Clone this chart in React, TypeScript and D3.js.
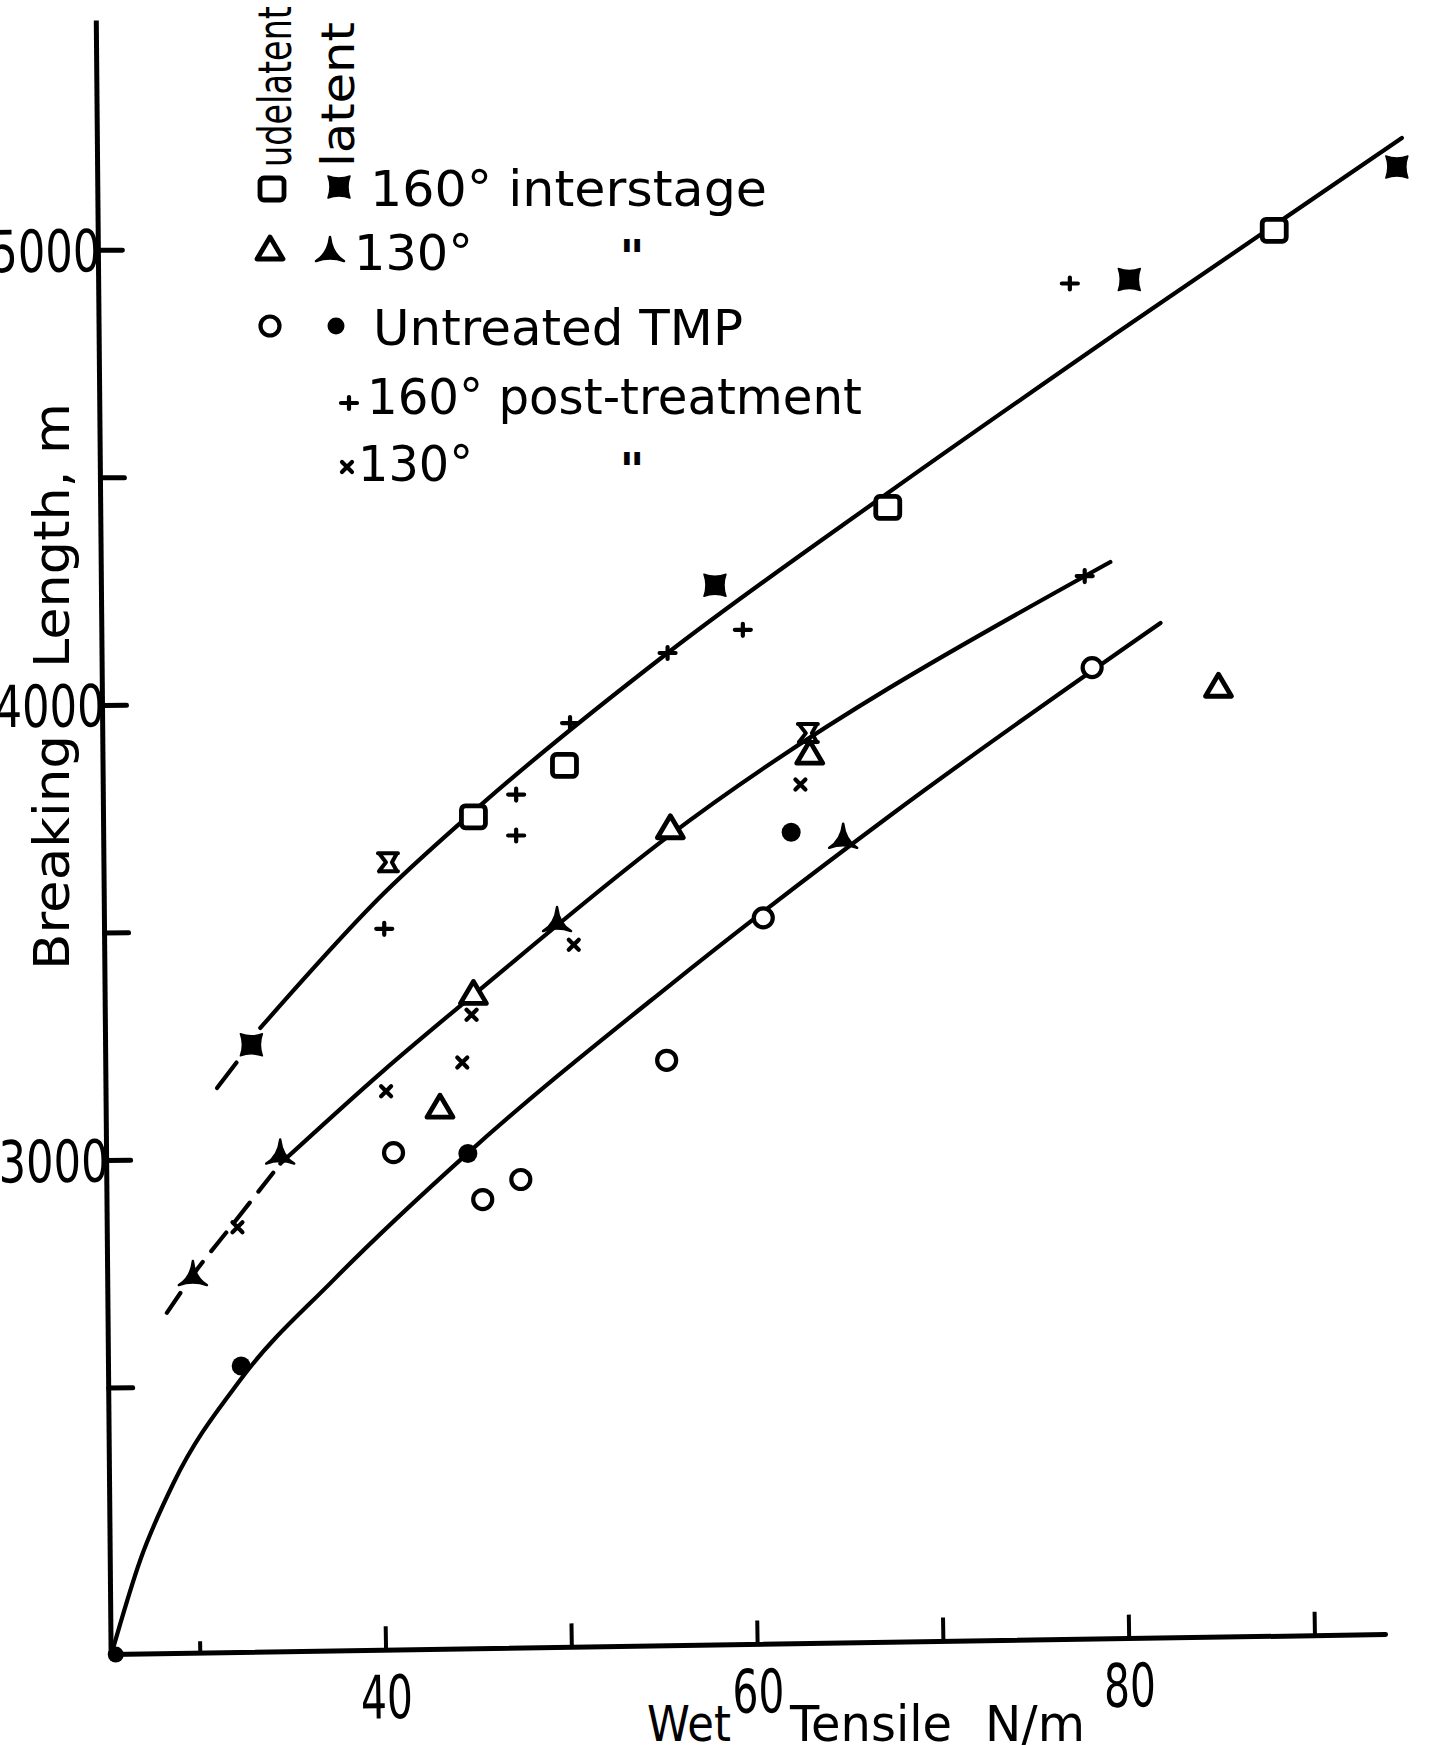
import React from 'react';
import * as d3 from 'd3';

const W = 1443;
const H = 1745;

// ---- axis data ----
const xTickValues = [30, 40, 50, 60, 70, 80, 90];
const xTickLabels = [40, 60, 80];
const yTickValues = [2500, 3000, 3500, 4000, 4500, 5000];
const yTickLabels = [3000, 4000, 5000];
const X_MIN = 25.2;
const X_MAX = 93.8;
const Y_MIN = 1914;
const Y_MAX = 5505;

// ---- point series [wet tensile N/m, breaking length m] ----
const udelatent160 = [[44.7, 3755], [49.6, 3868], [67.0, 4435], [87.8, 5044]];
const latent160 = [[32.75, 3254], [57.7, 4264], [80.0, 4936], [94.4, 5183]];
const latent160Outline = [[40.1, 3655], [62.7, 3939]];
const udelatent130 = [[42.9, 3117], [44.7, 3367], [55.3, 3731], [62.8, 3895], [84.8, 4042]];
const latent130 = [[29.6, 2748], [34.3, 3015], [49.2, 3526], [64.6, 3709]];
const untreatedUdelatent = [[40.4, 3017], [45.2, 2914], [47.25, 2958], [55.1, 3220], [60.3, 3533], [78.0, 4083]];
const untreatedLatent = [[32.2, 2548], [44.4, 3015], [61.8, 3721]];
const originDot = [[25.45, 1914]];
const post160 = [[39.9, 3509], [47.0, 3714], [47.0, 3804], [49.9, 3961], [55.15, 4115], [59.2, 4166], [76.8, 4927], [77.6, 4284]];
const post130 = [[40.0, 3152], [44.1, 3215], [44.6, 3320], [32.0, 2853], [50.1, 3474], [62.3, 3826]];

// ---- fitted curves ----
const curveTopLead = [[30.9, 3159], [31.95, 3215]];
const curveTop = [[33.23, 3291], [39.88, 3587], [45.21, 3785], [55.15, 4115], [66.95, 4465], [79.1, 4812], [94.67, 5247]];
const curveMidLead = [[28.2, 2665], [29.82, 2760], [31.62, 2853], [34.31, 2993]];
const curveMid = [[34.31, 2993], [39.88, 3198], [45.21, 3381], [55.15, 3711], [78.98, 4315]];
const curveLow = [[25.21, 1914], [26.77, 2122], [28.56, 2291], [32.16, 2518], [37.19, 2738], [44.37, 3015], [55.15, 3381], [67.13, 3758], [81.68, 4181]];

const FONT = "'DejaVu Sans', 'Liberation Sans', sans-serif";

const x = d3.scaleLinear().domain([40, 80]).range([386.1, 1129.3]);
const y = d3.scaleLinear().domain([3000, 5000]).range([1160.4, 250.3]);

const line = d3.line<number[]>().x(d => x(d[0])).y(d => y(d[1])).curve(d3.curveMonotoneX);

const SW = 4.8;

function SquareOpen({ cx, cy }: { cx: number; cy: number }) {
  return <rect x={cx - 12} y={cy - 11} width={24} height={22} rx={4} fill="#fff" stroke="#000" strokeWidth={SW} />;
}
function BowtieFilled({ cx, cy }: { cx: number; cy: number }) {
  return <path transform={`translate(${cx},${cy})`} d="M-11,-11 Q0,-7 11,-11 Q7,0 11,11 Q0,7 -11,11 Q-7,0 -11,-11 Z" fill="#000" stroke="#000" strokeWidth={1.5} strokeLinejoin="round" />;
}
function Hourglass({ cx, cy }: { cx: number; cy: number }) {
  return <path transform={`translate(${cx},${cy})`} d="M-10,-9 L10,-9 M-9,9 L10,9 M-9,-9 L-2,0 L-9,9 M9,-9 L4,0 L9,9" fill="none" stroke="#000" strokeWidth={4} strokeLinecap="round" strokeLinejoin="round" />;
}
function TriangleOpen({ cx, cy }: { cx: number; cy: number }) {
  return <path transform={`translate(${cx},${cy})`} d="M0,-12 L13,10 L-13,10 Z" fill="#fff" stroke="#000" strokeWidth={SW} strokeLinejoin="round" />;
}
function TriangleFilled({ cx, cy }: { cx: number; cy: number }) {
  return <path transform={`translate(${cx},${cy})`} d="M0,-14 Q2,3 14,10 Q0,5 -14,10 Q-2,3 0,-14 Z" fill="#000" stroke="#000" strokeWidth={2.5} strokeLinejoin="round" />;
}
function CircleOpen({ cx, cy }: { cx: number; cy: number }) {
  return <circle cx={cx} cy={cy} r={9.5} fill="#fff" stroke="#000" strokeWidth={4.2} />;
}
function CircleFilled({ cx, cy, r = 9.5 }: { cx: number; cy: number; r?: number }) {
  return <circle cx={cx} cy={cy} r={r} fill="#000" />;
}
function Plus({ cx, cy }: { cx: number; cy: number }) {
  return <path transform={`translate(${cx},${cy})`} d="M-8,0 L8,0 M0,-6 L0,6" stroke="#000" strokeWidth={4.2} strokeLinecap="round" />;
}
function Cross({ cx, cy }: { cx: number; cy: number }) {
  return <path transform={`translate(${cx},${cy})`} d="M-5,-5 L5,5 M5,-5 L-5,5" stroke="#000" strokeWidth={4.2} strokeLinecap="round" />;
}

export default function App() {
  const x0 = x(X_MIN);
  const y0 = y(Y_MIN);
  const xEnd = x(X_MAX);
  const yTop = y(Y_MAX);

  const pts = (arr: number[][], C: any) =>
    arr.map((d, i) => <C key={i} cx={x(d[0])} cy={y(d[1])} />);

  const curveStyle = { fill: 'none', stroke: '#000', strokeWidth: 4.2, strokeLinecap: 'round' as const };

  return (
    <svg width={W} height={H} viewBox={`0 0 ${W} ${H}`} style={{ position: 'absolute', left: 0, top: 0, background: '#fff' }} fontFamily={FONT}>
      <rect x={0} y={0} width={W} height={H} fill="#fff" />

      {/* y axis */}
      <g transform={`rotate(-0.52, ${x0}, ${y0})`}>
        <line x1={x0} y1={y0} x2={x0} y2={yTop} stroke="#000" strokeWidth={5} />
        {yTickValues.map(v => (
          <line key={v} x1={x0} x2={x0 + 24} y1={y(v)} y2={y(v)} stroke="#000" strokeWidth={5} strokeLinecap="round" />
        ))}
        {yTickLabels.map(v => (
          <text key={v} x={x0 + 2} y={y(v) + 21} textAnchor="end" fontSize={58} textLength={110} lengthAdjust="spacingAndGlyphs">{v}</text>
        ))}
      </g>

      {/* y title */}
      <text transform={`translate(69, 970) rotate(-90)`} fontSize={50} textLength={235} lengthAdjust="spacingAndGlyphs">Breaking</text>
      <text transform={`translate(69, 668) rotate(-90)`} fontSize={50} textLength={265} lengthAdjust="spacingAndGlyphs">Length, m</text>

      {/* x axis */}
      <g transform={`rotate(-0.9, ${x0}, ${y0})`}>
        <line x1={x0} y1={y0} x2={xEnd} y2={y0} stroke="#000" strokeWidth={5} strokeLinecap="round" />
        {xTickValues.map(v => (
          <line key={v} x1={x(v)} x2={x(v)} y1={y0} y2={y0 - (v === 30 ? 12 : 24)} stroke="#000" strokeWidth={4} />
        ))}
        {xTickLabels.map(v => (
          <text key={v} x={x(v)} y={y0 + 68} textAnchor="middle" fontSize={60} textLength={52} lengthAdjust="spacingAndGlyphs">{v}</text>
        ))}
      </g>
      <text x={647} y={1741} fontSize={50} textLength={84} lengthAdjust="spacingAndGlyphs">Wet</text>
      <text x={790} y={1741} fontSize={50} textLength={162} lengthAdjust="spacingAndGlyphs">Tensile</text>
      <text x={985} y={1741} fontSize={50} textLength={100} lengthAdjust="spacingAndGlyphs">N/m</text>

      {/* curves */}
      <path d={line(curveTopLead) || ''} {...curveStyle} />
      <path d={line(curveTop) || ''} {...curveStyle} />
      <path d={line(curveMidLead) || ''} {...curveStyle} strokeDasharray="24 14" />
      <path d={line(curveMid) || ''} {...curveStyle} />
      <path d={line(curveLow) || ''} {...curveStyle} />

      {/* points */}
      {pts(udelatent160, SquareOpen)}
      {pts(latent160, BowtieFilled)}
      {pts(latent160Outline, Hourglass)}
      {pts(udelatent130, TriangleOpen)}
      {pts(latent130, TriangleFilled)}
      {pts(untreatedUdelatent, CircleOpen)}
      {pts(untreatedLatent, CircleFilled)}
      {originDot.map((d, i) => <CircleFilled key={i} cx={x(d[0])} cy={y(d[1])} r={8} />)}
      {pts(post160, Plus)}
      {pts(post130, Cross)}

      {/* legend */}
      <text transform="translate(291, 167) rotate(-90)" fontSize={46} textLength={161} lengthAdjust="spacingAndGlyphs">udelatent</text>
      <text transform="translate(354, 167) rotate(-90)" fontSize={46} textLength={145} lengthAdjust="spacingAndGlyphs">latent</text>

      <SquareOpen cx={272} cy={189} />
      <BowtieFilled cx={339} cy={187} />
      <text x={370} y={206} fontSize={50} textLength={397} lengthAdjust="spacingAndGlyphs">160°  interstage</text>

      <TriangleOpen cx={270} cy={249} />
      <TriangleFilled cx={330} cy={251} />
      <text x={354} y={270} fontSize={50} textLength={119} lengthAdjust="spacingAndGlyphs">130°</text>
      <text x={632} y={274} fontSize={48} fontWeight="bold" fontStyle="italic" textAnchor="middle">"</text>

      <CircleOpen cx={270} cy={326} />
      <CircleFilled cx={336} cy={326} r={8.5} />
      <text x={373} y={345} fontSize={50} textLength={370} lengthAdjust="spacingAndGlyphs">Untreated TMP</text>

      <Plus cx={349} cy={403} />
      <text x={367} y={414} fontSize={50} textLength={495} lengthAdjust="spacingAndGlyphs">160° post-treatment</text>

      <Cross cx={347} cy={467} />
      <text x={358} y={481} fontSize={50} textLength={115} lengthAdjust="spacingAndGlyphs">130°</text>
      <text x={632} y={487} fontSize={48} fontWeight="bold" fontStyle="italic" textAnchor="middle">"</text>
    </svg>
  );
}
